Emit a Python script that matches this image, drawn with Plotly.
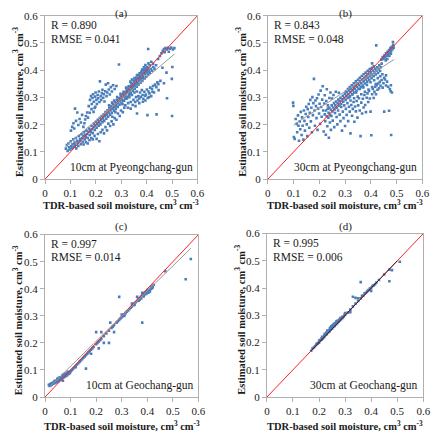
import plotly.graph_objects as go

# ---------------- data ----------------
panel_labels = ["(a)", "(b)", "(c)", "(d)"]
site_labels = ["10cm at Pyeongchang-gun", "30cm at Pyeongchang-gun",
               "10cm at Geochang-gun", "30cm at Geochang-gun"]
r_values = ["0.890", "0.843", "0.997", "0.995"]
rmse_values = ["0.041", "0.048", "0.014", "0.006"]
tick_vals = [0, 0.1, 0.2, 0.3, 0.4, 0.5, 0.6]
tick_text = ["0", "0.1", "0.2", "0.3", "0.4", "0.5", "0.6"]
x_title = "<b>TDR-based soil moisture, cm<sup>3</sup> cm<sup>-3</sup></b>"
y_title = "<b>Estimated soil moisture, cm<sup>3</sup> cm<sup>-3</sup></b>"

# trend lines: (x start, x end, slope, intercept)
trend_a = (0.08, 0.51, 0.79, 0.057)
trend_b = (0.10, 0.49, 0.615, 0.138)
trend_c = (0.02, 0.57, 0.927, 0.021)
trend_d = (0.17, 0.50, 1.0, 0.0)

pts_a = [
    # main band
    (0.082,0.112),(0.086,0.125),(0.089,0.104),(0.092,0.131),(0.095,0.117),(0.097,0.109),(0.101,0.139),
    (0.103,0.121),(0.106,0.113),(0.108,0.128),(0.111,0.146),(0.113,0.119),(0.116,0.134),(0.118,0.125),
    (0.121,0.151),(0.123,0.113),(0.126,0.141),(0.128,0.132),(0.131,0.122),(0.133,0.158),(0.136,0.139),
    (0.138,0.147),(0.141,0.128),(0.143,0.165),(0.146,0.151),(0.148,0.137),(0.151,0.159),(0.153,0.172),
    (0.156,0.146),(0.158,0.163),(0.161,0.155),(0.163,0.178),(0.166,0.166),(0.168,0.151),(0.171,0.174),
    (0.173,0.186),(0.176,0.162),(0.178,0.181),(0.181,0.172),(0.183,0.195),(0.186,0.183),(0.188,0.169),
    (0.191,0.192),(0.193,0.204),(0.196,0.181),(0.198,0.197),(0.201,0.211),(0.203,0.189),(0.206,0.203),
    (0.208,0.218),(0.211,0.196),(0.213,0.209),(0.216,0.225),(0.218,0.201),(0.221,0.216),(0.223,0.232),
    (0.226,0.209),(0.228,0.223),(0.231,0.238),(0.233,0.214),(0.236,0.231),(0.238,0.246),(0.241,0.222),
    (0.243,0.237),(0.246,0.253),(0.248,0.229),(0.251,0.244),(0.253,0.261),(0.256,0.236),(0.258,0.252),
    (0.261,0.268),(0.263,0.243),(0.266,0.259),(0.268,0.276),(0.271,0.251),(0.273,0.266),(0.276,0.283),
    (0.278,0.258),(0.281,0.274),(0.283,0.291),(0.286,0.265),(0.288,0.281),(0.291,0.297),(0.293,0.273),
    (0.296,0.289),(0.298,0.305),(0.301,0.279),(0.303,0.296),(0.306,0.312),(0.308,0.287),(0.311,0.303),
    (0.313,0.319),(0.316,0.295),(0.318,0.311),(0.321,0.327),(0.323,0.302),(0.326,0.318),(0.328,0.334),
    (0.331,0.309),(0.333,0.326),(0.336,0.342),(0.338,0.317),(0.341,0.333),(0.343,0.349),(0.346,0.325),
    (0.348,0.341),(0.351,0.356),(0.353,0.332),(0.356,0.348),(0.358,0.364),(0.361,0.339),(0.363,0.356),
    (0.366,0.371),(0.368,0.347),(0.371,0.362),(0.373,0.378),(0.376,0.354),(0.378,0.371),(0.381,0.386),
    (0.383,0.361),(0.386,0.378),(0.388,0.393),(0.391,0.369),(0.393,0.386),(0.396,0.401),(0.398,0.376),
    (0.401,0.392),(0.403,0.407),(0.406,0.384),(0.408,0.399),(0.412,0.391),(0.416,0.405),(0.421,0.398),
    (0.426,0.412),(0.431,0.405),(0.437,0.418),
    (0.252,0.271),(0.259,0.262),(0.264,0.281),(0.272,0.289),(0.279,0.269),(0.284,0.301),(0.292,0.287),
    (0.297,0.313),(0.302,0.292),(0.309,0.321),(0.314,0.306),(0.319,0.336),(0.324,0.321),(0.329,0.341),
    (0.334,0.315),(0.339,0.352),(0.344,0.337),(0.349,0.362),(0.354,0.343),(0.359,0.372),(0.364,0.351),
    (0.369,0.381),(0.374,0.366),(0.379,0.394),(0.384,0.372),(0.389,0.402),(0.394,0.388),(0.399,0.409),
    (0.404,0.396),(0.336,0.358),(0.342,0.366),(0.352,0.371),(0.362,0.382),(0.372,0.389),
    # upper-left cluster
    (0.172,0.268),(0.177,0.291),(0.181,0.305),(0.184,0.276),(0.187,0.298),(0.189,0.312),(0.192,0.284),
    (0.195,0.261),(0.197,0.303),(0.199,0.318),(0.202,0.291),(0.204,0.276),(0.207,0.309),(0.209,0.297),
    (0.212,0.322),(0.214,0.283),(0.216,0.359),(0.219,0.305),(0.221,0.291),(0.224,0.316),(0.226,0.328),
    (0.229,0.299),(0.231,0.312),(0.234,0.285),(0.237,0.323),(0.239,0.347),(0.242,0.305),(0.245,0.318),
    (0.248,0.352),(0.251,0.329),(0.255,0.311),(0.259,0.338),(0.263,0.322),(0.268,0.345),(0.274,0.331),
    (0.281,0.342),(0.166,0.245),(0.161,0.232),(0.158,0.219),(0.155,0.205),(0.169,0.226),(0.176,0.244),
    (0.183,0.257),(0.191,0.247),(0.198,0.266),
    # scattered left
    (0.102,0.178),(0.107,0.192),(0.112,0.205),(0.115,0.186),(0.118,0.259),(0.122,0.214),(0.127,0.245),
    (0.131,0.199),(0.136,0.221),(0.141,0.208),(0.146,0.236),(0.151,0.192),
    # below the diagonal
    (0.152,0.127),(0.161,0.136),(0.168,0.131),(0.175,0.143),(0.182,0.151),(0.188,0.146),(0.195,0.159),
    (0.203,0.148),(0.208,0.166),(0.214,0.139),(0.219,0.172),(0.226,0.181),(0.232,0.168),(0.238,0.191),
    (0.244,0.179),(0.249,0.204),(0.256,0.195),(0.262,0.212),(0.269,0.201),(0.274,0.224),(0.281,0.218),
    (0.287,0.241),(0.294,0.232),(0.299,0.252),(0.306,0.246),(0.312,0.262),(0.265,0.229),(0.277,0.246),
    # lower-right cluster
    (0.305,0.275),(0.311,0.288),(0.316,0.271),(0.322,0.296),(0.327,0.279),(0.332,0.301),(0.337,0.283),
    (0.342,0.309),(0.345,0.272),(0.348,0.291),(0.352,0.318),(0.355,0.283),(0.358,0.301),(0.361,0.322),
    (0.364,0.289),(0.367,0.305),(0.371,0.296),(0.374,0.318),(0.377,0.302),(0.381,0.327),(0.384,0.309),
    (0.387,0.295),(0.391,0.321),(0.394,0.306),(0.397,0.311),(0.401,0.329),(0.404,0.298),(0.407,0.322),
    (0.411,0.315),(0.414,0.336),(0.418,0.305),(0.421,0.331),(0.425,0.342),(0.429,0.318),(0.433,0.347),
    (0.438,0.338),(0.442,0.356),(0.446,0.349),(0.337,0.259),(0.326,0.262),(0.356,0.268),(0.371,0.279),
    (0.385,0.284),(0.395,0.289),(0.409,0.301),
    # upper end
    (0.382,0.402),(0.389,0.411),(0.395,0.419),(0.402,0.412),(0.407,0.425),(0.412,0.418),(0.418,0.431),
    (0.425,0.424),(0.291,0.421),(0.406,0.478),(0.445,0.441),(0.452,0.452),(0.458,0.462),(0.463,0.471),
    (0.468,0.478),(0.474,0.481),(0.479,0.476),(0.484,0.482),(0.491,0.479),(0.497,0.483),(0.503,0.476),
    (0.509,0.481),(0.471,0.466),(0.487,0.468),
    # outliers
    (0.500,0.232),(0.480,0.297),(0.447,0.327),(0.499,0.368),(0.501,0.412),(0.439,0.238),(0.362,0.241),
    (0.468,0.352),(0.454,0.361),(0.423,0.321),(0.462,0.409),(0.478,0.391),(0.403,0.235),
]

pts_b = [
    # main band
    (0.221,0.238),(0.226,0.252),(0.229,0.231),(0.233,0.259),(0.236,0.244),(0.239,0.262),(0.242,0.236),
    (0.245,0.255),(0.248,0.271),(0.251,0.249),(0.254,0.263),(0.257,0.279),(0.259,0.256),(0.262,0.271),
    (0.265,0.285),(0.268,0.262),(0.271,0.279),(0.274,0.292),(0.277,0.27),(0.279,0.286),(0.282,0.299),
    (0.285,0.276),(0.288,0.293),(0.291,0.306),(0.293,0.284),(0.296,0.299),(0.299,0.313),(0.302,0.291),
    (0.305,0.306),(0.307,0.319),(0.31,0.298),(0.313,0.312),(0.316,0.326),(0.319,0.304),(0.321,0.319),
    (0.324,0.333),(0.327,0.311),(0.33,0.326),(0.333,0.339),(0.335,0.318),(0.338,0.332),(0.341,0.346),
    (0.344,0.324),(0.347,0.339),(0.349,0.352),(0.352,0.331),(0.355,0.346),(0.358,0.359),(0.361,0.338),
    (0.363,0.352),(0.366,0.366),(0.369,0.344),(0.372,0.359),(0.375,0.372),(0.377,0.351),(0.38,0.366),
    (0.383,0.379),(0.386,0.358),(0.389,0.372),(0.391,0.386),(0.394,0.364),(0.397,0.379),(0.4,0.392),
    (0.403,0.371),(0.405,0.385),(0.408,0.399),(0.411,0.378),(0.414,0.392),(0.417,0.405),(0.419,0.384),
    (0.422,0.398),(0.425,0.411),(0.428,0.39),(0.431,0.404),(0.433,0.418),(0.436,0.397),(0.439,0.411),
    (0.442,0.424),
    (0.303,0.322),(0.311,0.331),(0.318,0.338),(0.326,0.345),(0.334,0.352),(0.342,0.359),(0.35,0.365),
    (0.357,0.372),(0.365,0.379),(0.372,0.385),(0.38,0.391),(0.388,0.398),(0.396,0.404),(0.404,0.409),
    (0.412,0.414),(0.315,0.3),(0.329,0.312),(0.343,0.318),(0.357,0.331),(0.371,0.337),(0.385,0.346),
    (0.399,0.356),(0.413,0.363),(0.427,0.371),(0.437,0.378),(0.445,0.385),(0.452,0.372),(0.459,0.381),
    (0.419,0.349),(0.405,0.338),(0.391,0.329),(0.377,0.321),(0.363,0.312),(0.349,0.303),(0.335,0.297),
    (0.321,0.289),
    # top cluster
    (0.441,0.439),(0.446,0.448),(0.449,0.441),(0.453,0.455),(0.456,0.447),(0.459,0.462),(0.462,0.453),
    (0.465,0.468),(0.468,0.459),(0.471,0.474),(0.473,0.465),(0.476,0.481),(0.479,0.471),(0.481,0.486),
    (0.484,0.477),(0.487,0.492),(0.489,0.483),(0.486,0.503),(0.478,0.461),(0.472,0.452),(0.464,0.441),
    (0.458,0.436),(0.421,0.491),(0.405,0.425),
    # wide lower-left / lower-right spread
    (0.098,0.281),(0.099,0.269),(0.101,0.155),(0.104,0.148),(0.108,0.221),(0.112,0.203),(0.114,0.172),
    (0.117,0.234),(0.119,0.196),(0.121,0.141),(0.124,0.212),(0.126,0.183),(0.128,0.247),(0.131,0.162),
    (0.133,0.227),(0.135,0.196),(0.138,0.145),(0.14,0.252),(0.142,0.214),(0.144,0.178),(0.147,0.239),
    (0.149,0.266),(0.151,0.201),(0.153,0.158),(0.155,0.257),(0.157,0.228),(0.159,0.276),(0.161,0.189),
    (0.163,0.244),(0.165,0.291),(0.167,0.212),(0.169,0.262),(0.171,0.172),(0.173,0.301),(0.175,0.235),
    (0.177,0.279),(0.179,0.368),(0.181,0.252),(0.183,0.196),(0.185,0.289),(0.187,0.268),(0.189,0.224),
    (0.191,0.297),(0.193,0.181),(0.195,0.259),(0.197,0.311),(0.199,0.241),(0.201,0.277),(0.203,0.203),
    (0.205,0.325),(0.207,0.265),(0.209,0.229),(0.211,0.292),(0.213,0.341),(0.215,0.252),(0.217,0.175),
    (0.219,0.278),(0.221,0.308),(0.223,0.213),(0.225,0.163),(0.227,0.287),(0.229,0.33),(0.231,0.194),
    (0.233,0.271),(0.235,0.226),(0.237,0.152),(0.239,0.298),(0.241,0.208),(0.243,0.318),(0.245,0.181),
    (0.247,0.232),(0.249,0.296),(0.252,0.215),(0.255,0.309),(0.258,0.191),(0.261,0.243),(0.264,0.321),
    (0.267,0.228),(0.27,0.201),(0.273,0.252),(0.276,0.317),(0.279,0.237),(0.282,0.213),(0.285,0.265),
    (0.288,0.178),(0.291,0.248),(0.294,0.224),(0.297,0.271),(0.3,0.195),(0.303,0.258),(0.306,0.236),
    (0.309,0.279),(0.312,0.213),(0.315,0.266),(0.318,0.248),(0.321,0.168),(0.324,0.272),(0.327,0.233),
    (0.33,0.258),(0.333,0.283),(0.336,0.211),(0.339,0.267),(0.342,0.249),(0.345,0.287),(0.348,0.226),
    (0.351,0.271),(0.354,0.297),(0.357,0.252),(0.36,0.158),(0.363,0.281),(0.366,0.241),(0.369,0.295),
    (0.372,0.263),(0.375,0.309),(0.378,0.272),(0.381,0.246),(0.384,0.299),(0.387,0.315),(0.39,0.283),
    (0.393,0.324),(0.396,0.296),(0.399,0.248),(0.402,0.161),(0.405,0.312),(0.408,0.331),(0.411,0.298),
    (0.414,0.321),(0.417,0.339),(0.42,0.312),(0.423,0.345),(0.426,0.328),(0.429,0.351),(0.432,0.334),
    (0.435,0.357),(0.438,0.343),(0.442,0.364),(0.446,0.336),(0.449,0.352),(0.452,0.248),(0.455,0.366),
    (0.459,0.344),(0.463,0.358),(0.467,0.339),(0.471,0.251),(0.474,0.331),(0.477,0.323),(0.479,0.162),
    (0.482,0.318),(0.478,0.345),
]

c_x = [0.015,0.018,0.02,0.022,0.025,0.027,0.03,0.032,0.035,0.037,0.04,0.042,0.045,0.047,0.05,0.052,
       0.055,0.057,0.06,0.062,0.065,0.067,0.07,0.072,0.075,0.077,0.08,0.082,0.085,0.087,0.09,0.092,
       0.095,0.097,0.1,0.103,0.106,0.11,0.115,0.12,0.125,0.13,0.135,0.14,0.145,0.15,0.155,0.16,
       0.165,0.17,0.175,0.18,0.185,0.19,0.2,0.205,0.21,0.215,0.22,0.23,0.24,0.25,0.26,0.265,0.27,0.28,
       0.285,0.29,0.295,0.3,0.305,0.31,0.315,0.32,0.325,0.33,0.335,0.34,0.345,0.35,0.355,0.36,
       0.365,0.37,0.375,0.38,0.385,0.39,0.395,0.4,0.405,0.41,0.415,0.42,0.425,0.36,0.37,0.39,
       0.41,0.38,0.4,0.34,0.35,0.3,0.31,0.404,0.408,0.412,0.417,0.421,0.396,0.386,0.376,0.366,
       0.028,0.038,0.048,0.058,0.068,0.078,0.088,0.033,0.053,0.073,
       0.57,0.55,0.38,0.29,0.16,0.47,0.27,0.2,0.22,0.25,0.23,0.21,0.07,0.18,0.12,0.255]
c_y = [0.045,0.041,0.048,0.043,0.05,0.046,0.052,0.049,0.055,0.051,0.057,0.054,0.06,0.056,0.063,0.059,
       0.066,0.062,0.07,0.065,0.072,0.069,0.076,0.072,0.078,0.075,0.082,0.078,0.085,0.081,0.088,0.085,
       0.092,0.088,0.095,0.098,0.101,0.105,0.11,0.115,0.12,0.125,0.13,0.135,0.14,0.145,0.15,0.155,
       0.16,0.165,0.17,0.175,0.18,0.185,0.195,0.2,0.205,0.21,0.215,0.225,0.235,0.245,0.255,0.26,0.265,0.275,
       0.28,0.285,0.29,0.295,0.3,0.305,0.31,0.315,0.32,0.325,0.33,0.335,0.34,0.345,0.35,0.355,
       0.36,0.365,0.37,0.375,0.38,0.385,0.39,0.39,0.395,0.4,0.405,0.41,0.415,0.37,0.36,0.38,
       0.39,0.385,0.395,0.345,0.34,0.305,0.3,0.385,0.392,0.398,0.401,0.405,0.381,0.372,0.364,0.356,
       0.051,0.06,0.067,0.073,0.08,0.087,0.093,0.054,0.07,0.084,
       0.51,0.435,0.275,0.37,0.105,0.465,0.24,0.24,0.24,0.2,0.2,0.18,0.06,0.16,0.11,0.275]

d_x = [0.17,0.175,0.18,0.185,0.19,0.195,0.2,0.2,0.205,0.21,0.21,0.215,0.22,0.22,0.225,0.23,0.23,
       0.235,0.24,0.24,0.245,0.25,0.25,0.255,0.26,0.26,0.265,0.27,0.27,0.275,0.28,0.28,0.285,0.29,
       0.29,0.295,0.3,0.31,0.32,0.33,0.34,0.35,0.36,0.37,0.38,0.39,0.4,0.41,0.42,0.43,0.45,0.47,
       0.222,0.232,0.242,0.252,0.262,0.272,0.282,0.247,0.257,0.267,0.36,0.47,0.51,0.48,0.33,0.34,
       0.365,0.375,0.385,0.395,0.405,0.415,0.35,0.4,0.3,0.32,0.228,0.238,0.248,0.258,0.268,0.278,
       0.288,0.298,0.212,0.202,0.192]
d_y = [0.17,0.178,0.182,0.187,0.193,0.197,0.2,0.205,0.208,0.211,0.216,0.215,0.221,0.226,0.228,0.231,
       0.236,0.238,0.241,0.246,0.247,0.251,0.256,0.257,0.261,0.266,0.267,0.271,0.276,0.277,0.281,0.285,
       0.286,0.29,0.295,0.296,0.301,0.31,0.321,0.333,0.343,0.353,0.363,0.373,0.383,0.393,0.401,0.41,
       0.42,0.43,0.45,0.468,
       0.232,0.244,0.254,0.263,0.272,0.281,0.29,0.26,0.269,0.278,0.422,0.425,0.497,0.466,0.368,0.364,
       0.372,0.381,0.389,0.398,0.408,0.414,0.363,0.39,0.308,0.312,0.236,0.243,0.255,0.264,0.273,0.284,
       0.292,0.302,0.221,0.209,0.196]

# ---------------- figure ----------------
W, H = 442, 441
# plot-area pixel boxes (left, right, top, bottom)
boxes = [(43, 199, 10, 178), (271, 429, 10, 178), (43, 200, 235, 402), (270, 430, 234, 402)]
# axis-title pixel anchors: (x-title centre y, y-title centre x)
title_pos = [(204, 15), (204, 243), (431, 15), (431, 242)]
# panel-label top edge (pixels)
label_top = [0, 0, 219, 219]

series = [
    ([p[0] for p in pts_a], [p[1] for p in pts_a], trend_a, "#9a9a9a"),
    ([p[0] for p in pts_b], [p[1] for p in pts_b], trend_b, "#9a9a9a"),
    (c_x, c_y, trend_c, "#9a9a9a"),
    (d_x, d_y, trend_d, "#3a2020"),
]

SERIF = "Liberation Serif"
AXC = "#b0b0b0"
TXT = "#1a1a1a"
fig = go.Figure()
annotations = []
for i, ((xs, ys, tr, tcol), (l, r, t, b), (xty, ytx)) in enumerate(zip(series, boxes, title_pos)):
    n = "" if i == 0 else str(i + 1)
    xa, ya = "x" + n, "y" + n
    fig.add_trace(go.Scatter(x=xs, y=ys, mode="markers", xaxis=xa, yaxis=ya,
                             marker=dict(symbol="square", size=2.6, color="#4a7ebb", line=dict(width=0)),
                             showlegend=False))
    fig.add_trace(go.Scatter(x=[0, 0.6], y=[0, 0.6], mode="lines", xaxis=xa, yaxis=ya,
                             line=dict(color="#ff2020", width=1), showlegend=False))
    x0, x1, s, c = tr
    fig.add_trace(go.Scatter(x=[x0, x1], y=[s * x0 + c, s * x1 + c], mode="lines", xaxis=xa, yaxis=ya,
                             line=dict(color=tcol, width=1), showlegend=False))
    axis_common = dict(range=[0, 0.6], tickvals=tick_vals, ticktext=tick_text, showgrid=False,
                       zeroline=False, showline=True, linecolor=AXC, linewidth=1, mirror=True,
                       ticks="outside", ticklen=4, tickcolor=AXC,
                       tickfont=dict(family=SERIF, size=11, color="#222"))
    fig.layout["xaxis" + n] = dict(axis_common, domain=[l / W, r / W], anchor=ya)
    fig.layout["yaxis" + n] = dict(axis_common, domain=[1 - b / H, 1 - t / H], anchor=xa)
    annotations += [
        dict(xref=xa + " domain", yref=ya + " domain", x=0.03, y=0.945, xanchor="left", yanchor="middle",
             text="R = " + r_values[i], showarrow=False, borderpad=0,
             font=dict(family=SERIF, size=11.5, color=TXT)),
        dict(xref=xa + " domain", yref=ya + " domain", x=0.03, y=0.86, xanchor="left", yanchor="middle",
             text="RMSE = " + rmse_values[i], showarrow=False, borderpad=0,
             font=dict(family=SERIF, size=11.5, color=TXT)),
        dict(xref=xa + " domain", yref=ya + " domain", x=0.975, y=0.07, xanchor="right", yanchor="middle",
             text=site_labels[i], showarrow=False, borderpad=0,
             font=dict(family=SERIF, size=11.5, color=TXT)),
        dict(xref=xa + " domain", yref="paper", x=0.5, y=1 - label_top[i] / H, xanchor="center", yanchor="top",
             text=panel_labels[i], showarrow=False, font=dict(family=SERIF, size=11, color=TXT),
             borderpad=0),
        dict(xref=xa + " domain", yref="paper", x=0.5, y=1 - xty / H, xanchor="center", yanchor="middle",
             text=x_title, showarrow=False, borderpad=0, font=dict(family=SERIF, size=10.5, color=TXT)),
        dict(xref="paper", yref=ya + " domain", x=ytx / W, y=0.47, xanchor="center", yanchor="middle",
             textangle=-90, text=y_title, showarrow=False, borderpad=0,
             font=dict(family=SERIF, size=10.5, color=TXT)),
    ]

fig.update_layout(width=W, height=H, margin=dict(l=0, r=0, t=0, b=0),
                  paper_bgcolor="white", plot_bgcolor="white", annotations=annotations)
fig.write_html("out.html")
